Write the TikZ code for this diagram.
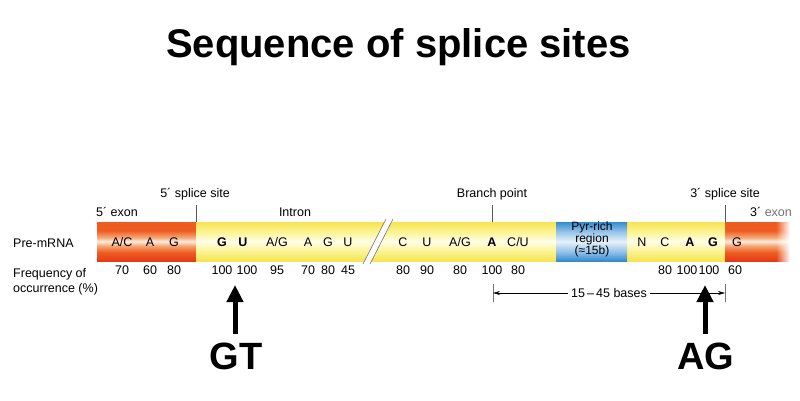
\documentclass[tikz,border=0pt]{standalone}
\usepackage{fontspec}
\setmainfont{Liberation Sans}
\usetikzlibrary{arrows.meta,fadings}
\definecolor{exR}{RGB}{228,58,22}
\definecolor{exR2}{RGB}{238,92,34}
\definecolor{exO}{RGB}{246,170,120}
\definecolor{exL}{RGB}{252,238,226}
\definecolor{yeE}{RGB}{247,228,80}
\definecolor{yeM}{RGB}{251,244,150}
\definecolor{yeL}{RGB}{255,253,232}
\definecolor{blE}{RGB}{52,138,206}
\definecolor{blM}{RGB}{140,190,230}
\definecolor{blL}{RGB}{232,241,250}
\pgfdeclareverticalshading{exonsh}{100bp}{color(0bp)=(exR); color(25bp)=(exR); color(36bp)=(exR2); color(45bp)=(exO); color(50bp)=(exL); color(55bp)=(exO); color(64bp)=(exR2); color(75bp)=(exR2); color(100bp)=(exR2)}
\pgfdeclareverticalshading{yelsh}{100bp}{color(0bp)=(yeE); color(25bp)=(yeE); color(38bp)=(yeM); color(50bp)=(yeL); color(62bp)=(yeM); color(75bp)=(yeE); color(100bp)=(yeE)}
\pgfdeclareverticalshading{bluesh}{100bp}{color(0bp)=(blE); color(25bp)=(blE); color(36bp)=(blM); color(50bp)=(blL); color(64bp)=(blM); color(75bp)=(blE); color(100bp)=(blE)}
\begin{document}
\begin{tikzpicture}[x=1pt,y=-1pt,
  lbl/.style={anchor=base,inner sep=0pt,font=\fontsize{12.5}{15}\selectfont},
  lblw/.style={lbl,anchor=base west},
  seq/.style={lbl},
  bseq/.style={lbl,font=\fontsize{12.5}{15}\selectfont\bfseries},
  tickline/.style={draw=black!65,line width=0.6pt},
  dimline/.style={draw=black,line width=0.5pt,{Stealth[length=7pt,width=4pt]}-{Stealth[length=7pt,width=4pt]}},
  bigarrow/.style={draw=black,line width=5pt,-{Triangle[length=17pt,width=16pt]}},
  big/.style={anchor=base,inner sep=0pt,font=\fontsize{38}{44}\selectfont\bfseries}]
\useasboundingbox (0,0) rectangle (800,400);
\fill[white] (0,0) rectangle (800,400);

% title
\node[anchor=base,inner sep=0pt,font=\fontsize{40}{48}\selectfont\bfseries] (title) at (398.5,57) {Sequence of splice sites};

% bar
\shade[shading=exonsh] (97,222) rectangle (196,261);
\shade[shading=yelsh] (196,222) rectangle (725,261);
\shade[shading=bluesh] (556,222) rectangle (627,261);
\shade[shading=exonsh] (725,222) rectangle (776,261);
\shade[shading=exonsh,path fading=east] (776,222) rectangle (790,261);

% break
\fill[white] (363,264) -- (386,219) -- (393,219) -- (370,264) -- cycle;
\draw[black!55,line width=0.6pt] (363,264) -- (386,219);
\draw[black!55,line width=0.6pt] (370,264) -- (393,219);

% site markers
\coordinate (s5top) at (196,205); \coordinate (s5bot) at (196,222);
\coordinate (bptop) at (492,205); \coordinate (bpbot) at (492,222);
\coordinate (s3top) at (725,205); \coordinate (s3bot) at (725,222);
\draw[tickline] (s5top) -- (s5bot);
\draw[tickline] (bptop) -- (bpbot);
\draw[tickline] (s3top) -- (s3bot);

% labels
\node[lbl] (l5ss) at (195,197.5) {5´ splice site};
\node[lbl] (lbp) at (492,197.5) {Branch point};
\node[lbl] (l3ss) at (725,197.5) {3´ splice site};
\node[lbl] (l5ex) at (117,216.5) {5´ exon};
\node[lbl] (lint) at (295,216.5) {Intron};
\node[lblw] (l3ex) at (750,216.5) {3´ \textcolor{black!55}{exon}};
\node[lblw] (lpre) at (13,247) {Pre-mRNA};
\node[lblw] (lfr1) at (13,277) {Frequency of};
\node[lblw] (lfr2) at (13,292) {occurrence (\%)};
\node[align=center,inner sep=0pt,font=\fontsize{12}{12}\selectfont] (pyr) at (592,239) {Pyr-rich\\region\\(≈15b)};

% sequence
\node[seq] (q1) at (122,246.5) {A/C};
\node[seq] (q2) at (150,246.5) {A};
\node[seq] (q3) at (174,246.5) {G};
\node[bseq] (q4) at (222,246.5) {G};
\node[bseq] (q5) at (243,246.5) {U};
\node[seq] (q6) at (277,246.5) {A/G};
\node[seq] (q7) at (308,246.5) {A};
\node[seq] (q8) at (328,246.5) {G};
\node[seq] (q9) at (348,246.5) {U};
\node[seq] (q10) at (403,246.5) {C};
\node[seq] (q11) at (427,246.5) {U};
\node[seq] (q12) at (460,246.5) {A/G};
\node[bseq] (q13) at (492,246.5) {A};
\node[seq] (q14) at (518,246.5) {C/U};
\node[seq] (q15) at (642,246.5) {N};
\node[seq] (q16) at (665,246.5) {C};
\node[bseq] (q17) at (690,246.5) {A};
\node[bseq] (q18) at (713,246.5) {G};
\node[seq] (q19) at (737,246.5) {G};

% frequencies
\node[lbl] (f1) at (122,274.5) {70};
\node[lbl] (f2) at (150,274.5) {60};
\node[lbl] (f3) at (174,274.5) {80};
\node[lbl] (f4) at (222,274.5) {100};
\node[lbl] (f5) at (247,274.5) {100};
\node[lbl] (f6) at (277,274.5) {95};
\node[lbl] (f7) at (308,274.5) {70};
\node[lbl] (f8) at (328,274.5) {80};
\node[lbl] (f9) at (348,274.5) {45};
\node[lbl] (f10) at (403,274.5) {80};
\node[lbl] (f11) at (427,274.5) {90};
\node[lbl] (f12) at (460,274.5) {80};
\node[lbl] (f13) at (492,274.5) {100};
\node[lbl] (f14) at (518,274.5) {80};
\node[lbl] (f15) at (665,274.5) {80};
\node[lbl] (f16) at (687,274.5) {100};
\node[lbl] (f17) at (709,274.5) {100};
\node[lbl] (f18) at (735,274.5) {60};

% dimension 15-45 bases
\coordinate (dL) at (493,293); \coordinate (dR) at (725,293);
\coordinate (dLt) at (493,284); \coordinate (dLb) at (493,302);
\coordinate (dRt) at (725,284); \coordinate (dRb) at (725,302);
\draw[black!55,line width=0.6pt] (dLt) -- (dLb);
\draw[black!55,line width=0.6pt] (dRt) -- (dRb);
\draw[dimline] (dL) -- node[fill=white,inner xsep=3pt,inner ysep=1pt,font=\fontsize{12.5}{15}\selectfont] (bases) {15\,–\,45 bases} (dR);

% big arrows
\node[big] (gt) at (236,369) {GT};
\node[big] (ag) at (706,369) {AG};
\coordinate (gtb) at (235,334); \coordinate (gtt) at (235,285);
\coordinate (agb) at (705,334); \coordinate (agt) at (705,285);
\draw[bigarrow] (gtb) -- (gtt);
\draw[bigarrow] (agb) -- (agt);
\end{tikzpicture}
\end{document}
